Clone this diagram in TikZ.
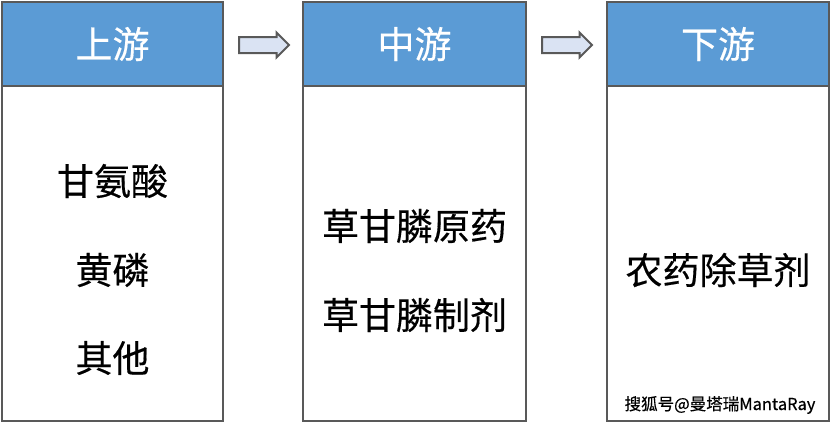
\documentclass[tikz,border=0pt]{standalone}
\usepackage{fontspec}
\setmainfont{Noto Sans CJK SC}[FakeBold=0.4]
\usetikzlibrary{shapes.arrows}
\definecolor{headblue}{HTML}{5B9BD5}
\definecolor{framegray}{HTML}{595959}
\definecolor{arrowfill}{HTML}{DAE3F3}
\def\bigcjk{\fontsize{37}{40}\selectfont}
\tikzstyle{head}=[draw=framegray,line width=2.5pt,fill=headblue,text=white,
                  minimum height=84pt,inner sep=0pt,font=\bigcjk]
\tikzstyle{body}=[draw=framegray,line width=2.5pt,fill=white,
                  minimum height=335pt,inner sep=0pt]
\tikzstyle{item}=[text=black,font=\bigcjk,inner sep=0pt]
\tikzstyle{flow}=[draw=framegray,line width=2pt,fill=arrowfill,single arrow,
                  minimum height=50pt,inner xsep=0pt,inner ysep=7pt,
                  single arrow head extend=4.5pt]

\begin{document}
\begin{tikzpicture}[x=1pt,y=-1pt]
  \useasboundingbox (0,0) rectangle (832,423);
  % Place the three columns
  \node[body,minimum width=221pt] (upbody) at (112.5,253.5) {};
  \node[body,minimum width=223pt] (midbody) at (414.5,253.5) {};
  \node[body,minimum width=222pt] (downbody) at (718,253.5) {};
  \node[head,minimum width=221pt] (up) at (112.5,44) {上游};
  \node[head,minimum width=223pt] (mid) at (414.5,44) {中游};
  \node[head,minimum width=222pt] (down) at (718,44) {下游};

  % Arrows between headers
  \node[flow] (a1) at (260,45) {};
  \node[flow] (a2) at (563,45) {};

  % Items
  \node[item] (gly) at (112.5,181) {甘氨酸};
  \node[item] (pho) at (112.5,270) {黄磷};
  \node[item] (oth) at (112.5,358) {其他};

  \node[item] (raw) at (414.5,226) {草甘膦原药};
  \node[item] (prep) at (414.5,315) {草甘膦制剂};

  \node[item] (herb) at (718,270) {农药除草剂};

  \node[text=black,font=\fontsize{16.5}{18}\selectfont,inner sep=0pt] (mark)
    at (720,405) {搜狐号@曼塔瑞MantaRay};
\end{tikzpicture}
\end{document}
